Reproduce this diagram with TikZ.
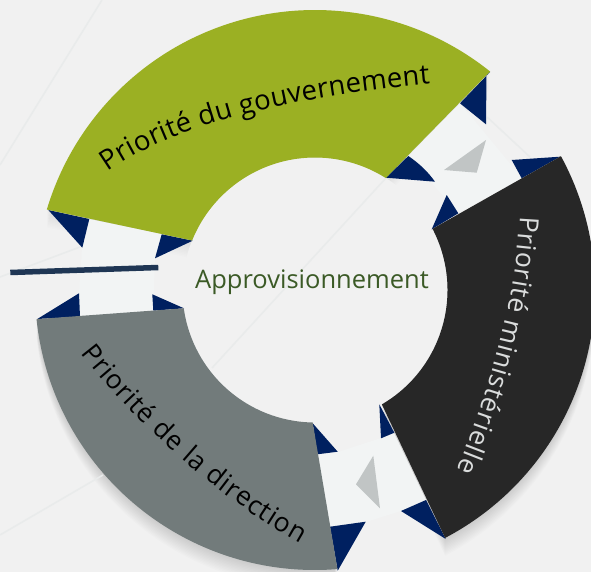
\documentclass[tikz,border=0pt]{standalone}
\usepackage{fontspec}
\setmainfont{Open Sans}
\usetikzlibrary{decorations.text,calc}
\definecolor{bgc}{HTML}{F1F1F1}
\definecolor{bandc}{HTML}{F2F4F4}
\definecolor{navyc}{HTML}{002060}
\definecolor{midc}{HTML}{C1C5C5}
\definecolor{greenc}{HTML}{9BB023}
\definecolor{blackc}{HTML}{272727}
\definecolor{greyc}{HTML}{727B7B}
\definecolor{linec}{HTML}{1F3654}
\definecolor{faintc}{HTML}{E9EBEB}
\definecolor{labelc}{HTML}{3B5A26}
\definecolor{lightc}{HTML}{DADCDC}
\tikzset{
  x=1pt,y=1pt,
  band/.style={fill=bandc,draw=none},
  wedge/.style={fill=navyc,draw=none},
  midtri/.style={fill=midc,draw=none},
  faint/.style={draw=faintc,line width=1.6pt},
  curved/.style={decorate,decoration={text along path,text align={fit to path},text={#1}}}
}
\newcommand{\sectorpath}[4]{(315,-290)++(#1:280) arc[start angle=#1,end angle=#2,radius=280] -- ($(315,-290)+(#3:132.5)$) arc[start angle=#3,end angle=#4,radius=132.5] -- cycle}
\begin{document}
\begin{tikzpicture}
\useasboundingbox (0,0) rectangle (591,-572);
\clip (0,0) rectangle (591,-572);
\fill[bgc] (0,0) rectangle (591,-572);
% soft shadows
\foreach \i in {1,...,12}{
  \fill[black,opacity=0.006,shift={(0,-1.5*\i)}] \sectorpath{51.3}{163.3}{158.05}{57.7};
  \fill[black,opacity=0.012,shift={(0,-1.5*\i)}] \sectorpath{28.55}{-62.3}{-59.7}{27.5};
  \fill[black,opacity=0.012,shift={(0,-1.5*\i)}] \sectorpath{185.97}{274.6}{269}{187.95};
}
\fill[bgc] (315,-290) circle[radius=132.5];
% faint background lines
\draw[faint] (102,0) -- (0,-165);
\draw[faint] (0,-277) -- (80,-247);
\draw[faint] (386,-178) -- (212,-368);
\draw[faint] (0,-535) -- (103,-475);
\draw[faint] (487,-117) -- (530,-157);
% connector bands
\fill[band] (460,-103) -- (522,-178) -- (458,-213) -- (408,-156) -- cycle;
\fill[band] (89,-219) -- (162,-234) -- (155,-258) -- (153,-311) -- (80,-317) -- (79,-293) -- (82,-248) -- cycle;
\fill[band] (317,-454) -- (338,-452) -- (381,-438) -- (394,-433) -- (426,-500) -- (401,-511) -- (366,-522) -- (330,-527) -- cycle;
% navy wedges
\fill[wedge] (490,-72) -- (486.5,-75) -- (486,-124.3) -- (460,-103.3) -- cycle;
\fill[wedge] (386,-177.7) -- (408.3,-156) .. controls (420,-164) and (428,-172) .. (435,-181.7) -- cycle;
\fill[wedge] (511.7,-160) -- (560,-156.7) -- (521.7,-178.3) -- cycle;
\fill[wedge] (431.7,-229.3) -- (446.7,-195) -- (458.3,-213.3) -- cycle;
\fill[wedge] (48.3,-210) -- (89.3,-219) -- (82.3,-247.7) -- cycle;
\fill[wedge] (192.7,-240.7) -- (161.7,-234.3) -- (155,-258.3) -- cycle;
\fill[wedge] (37.3,-319) -- (79,-293.3) -- (80,-316.7) -- cycle;
\fill[wedge] (184,-308.3) -- (152.3,-294.3) -- (153.3,-310.7) -- cycle;
\fill[wedge] (379.3,-404.3) -- (394.3,-432.7) -- (381,-438.3) -- cycle;
\fill[wedge] (312.7,-423.3) -- (337.7,-451.7) -- (317.3,-454.3) -- cycle;
\fill[wedge] (337.7,-570.7) -- (365.7,-521.7) -- (330,-526.7) -- cycle;
\fill[wedge] (445.7,-539) -- (401,-511) -- (426,-500) -- cycle;
% grey triangles
\fill[midtri] (486,-140) -- (444,-170) -- (476.7,-172.7) -- cycle;
\fill[midtri] (373.3,-455.7) -- (356,-484.3) -- (380,-508.3) -- cycle;
% sectors
\fill[greenc] \sectorpath{51.3}{163.3}{158.05}{57.7};
\fill[blackc] \sectorpath{28.55}{-62.3}{-59.7}{27.5};
\fill[greyc] \sectorpath{185.97}{274.6}{269}{187.95};
% dark bar
\coordinate (barA) at (10.3,-272.5);
\coordinate (barB) at (158.3,-267.5);
\draw[linec,line width=5.5pt] (barA) -- (barB);
% labels
\node[text=labelc,font=\fontsize{25.5}{30}\selectfont,inner sep=0pt] (approv) at (312,-282) {Approvisionnement};
\path[curved={|\fontsize{27.5}{32}\selectfont\color{black}|Priorité du gouvernement}] (108,-172) .. controls (178,-122) and (300,-96) .. (430,-84);
\path[curved={|\fontsize{26.5}{31}\selectfont\color{lightc}|Priorité ministérielle}] (520,-216) .. controls (516,-300) and (490,-390) .. (457,-470);
\path[curved={|\fontsize{26.5}{31}\selectfont\color{black}|Priorité de la direction}] (81,-353) .. controls (125,-410) and (205,-490) .. (300,-543);
\end{tikzpicture}
\end{document}
